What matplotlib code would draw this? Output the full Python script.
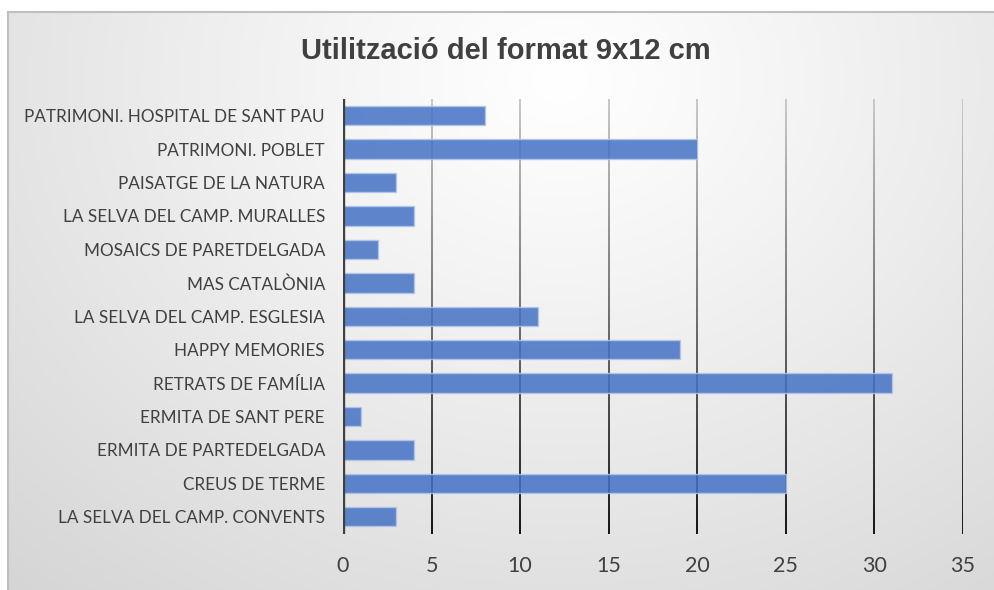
import numpy as np
import matplotlib
matplotlib.use('Agg')
import matplotlib.pyplot as plt
from matplotlib.collections import LineCollection

# Dades del gràfic
categories = ['LA SELVA DEL CAMP. CONVENTS', 'CREUS DE TERME', 'ERMITA DE PARTEDELGADA',
              'ERMITA DE SANT PERE', 'RETRATS DE FAMÍLIA', 'HAPPY MEMORIES',
              'LA SELVA DEL CAMP. ESGLESIA', 'MAS CATALÒNIA', 'MOSAICS DE PARETDELGADA',
              'LA SELVA DEL CAMP. MURALLES', 'PAISATGE DE LA NATURA', 'PATRIMONI. POBLET',
              'PATRIMONI. HOSPITAL DE SANT PAU']
valors = [3, 25, 4, 1, 31, 19, 11, 4, 2, 4, 3, 20, 8]
xticks = [0, 5, 10, 15, 20, 25, 30, 35]
titol = 'Utilització del format 9x12 cm'

W, H = 994, 590
fig = plt.figure(figsize=(W/100, H/100), dpi=100)
fig.patch.set_facecolor('white')

# fons amb degradat radial
bg = fig.add_axes([0, 0, 1, 1], zorder=-10)
X, Y = np.meshgrid(np.arange(W), np.arange(H))
d = np.sqrt((X-560.0)**2 + ((Y-80.0)*1.2)**2)
val = 1 - 0.16*np.clip(d/800, 0, 1.1)**1.1
img = np.dstack([val, val, val])
img[:12, :, :] = 1
img[:, :8, :] = 1
bg.imshow(img, extent=[0, W, H, 0], aspect='auto', interpolation='bilinear')
bg.plot([8, 8], [12, H+5], color='#bfbfbf', lw=1.5)
bg.plot([8, W+5], [12, 12], color='#bfbfbf', lw=1.5)
bg.set_xlim(0, W)
bg.set_ylim(H, 0)
bg.axis('off')

ax = fig.add_axes([343/W, 1-533.5/H, (963-343)/W, (533.5-99)/H])
ax.patch.set_alpha(0)
y = np.arange(len(categories))
ax.set_xlim(0, 35)
ax.set_ylim(-0.5, len(categories)-0.5)

# línies de quadrícula amb degradat (gris clar a dalt, negre a baix)
n = 60
ys = np.linspace(len(categories)-0.5, -0.5, n+1)
top = np.array([0.78, 0.78, 0.78])
bot = np.array([0.08, 0.08, 0.08])
segs, cols = [], []
for xt in xticks[1:]:
    for i in range(n):
        segs.append([(xt, ys[i]), (xt, ys[i+1])])
        t = i/(n-1)
        cols.append(tuple(top*(1-t) + bot*t))
ax.add_collection(LineCollection(segs, colors=cols, linewidths=1.4, zorder=1))

ax.barh(y, valors, height=0.58, color='#4472C4', alpha=0.85,
        edgecolor='#b4c7ea', linewidth=1.0, zorder=2)
ax.axvline(0, color='#404040', lw=2.4, zorder=3)

for s in ax.spines.values():
    s.set_visible(False)
ax.set_xticks(xticks)
ax.set_yticks(y)
ax.set_yticklabels(categories, fontfamily='Lato', fontsize=12.3, color='#404040')
ax.tick_params(axis='x', length=0, pad=16, labelsize=15.5, labelcolor='#404040')
ax.tick_params(axis='y', length=0, pad=13)
for lab in ax.get_xticklabels():
    lab.set_fontfamily('Lato')

fig.text(506/W, 1-51/H, titol, ha='center', va='center', fontsize=21,
         fontweight='bold', fontfamily='Liberation Sans', color='#404040')

fig.savefig('out.png', dpi=100)
